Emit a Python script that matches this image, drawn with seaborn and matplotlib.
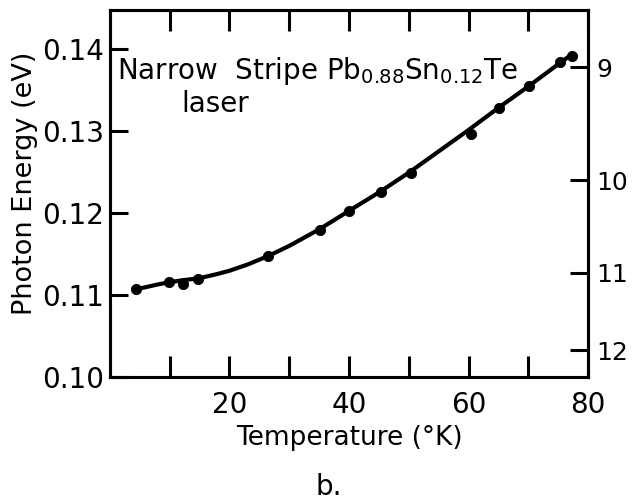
import matplotlib
matplotlib.use("Agg")
import matplotlib.pyplot as plt
import seaborn as sns
import numpy as np
import pandas as pd

# measured points
temp_K = [4.3, 9.9, 12.2, 14.7, 26.5, 35.1, 40.0, 45.3, 50.3, 60.5, 65.1, 70.05, 75.3, 77.4]
energy_eV = [0.1107, 0.11165, 0.11137, 0.1120, 0.11477, 0.11799, 0.12026, 0.12253,
             0.12492, 0.12964, 0.1328, 0.13544, 0.13833, 0.13909]

# smooth curve
curve_T = [4.3, 8, 10, 12, 15, 18, 20, 23, 26.5, 30, 35, 40, 45, 50, 55, 60, 65, 70, 75, 76.7]
curve_E = [0.1107, 0.1113, 0.11158, 0.1118, 0.11207, 0.11258, 0.11297, 0.11372, 0.11477,
           0.1160, 0.1180, 0.12026, 0.1225, 0.1249, 0.1275, 0.1301, 0.1328, 0.1354,
           0.1381, 0.1390]

x_ticks = [10, 20, 30, 40, 50, 60, 70, 80]
x_labels = ["", "20", "", "40", "", "60", "", "80"]
y_ticks = [0.10, 0.11, 0.12, 0.13, 0.14]
y_labels = ["0.10", "0.11", "0.12", "0.13", "0.14"]
wl_ticks = [9, 10, 11, 12]
wl_labels = ["9", "10", "11", "12"]

sns.set_style("ticks")
plt.rcParams['font.family'] = ['DejaVu Sans']
plt.rcParams['text.color'] = 'black'
plt.rcParams['axes.labelcolor'] = 'black'
plt.rcParams['xtick.color'] = 'black'
plt.rcParams['ytick.color'] = 'black'
plt.rcParams['axes.edgecolor'] = 'black'

fig = plt.figure(figsize=(6.35, 5.04), dpi=100)
ax = fig.add_axes([0.1732, 0.2514, 0.926 - 0.1732, 0.980 - 0.2514])

df_c = pd.DataFrame({"T": curve_T, "E": curve_E})
df_p = pd.DataFrame({"T": temp_K, "E": energy_eV})
sns.lineplot(data=df_c, x="T", y="E", ax=ax, color="black", linewidth=3, sort=True)
sns.scatterplot(data=df_p, x="T", y="E", ax=ax, color="black", s=55, edgecolor="black", zorder=5)

ax.set_xlim(0, 80)
ax.set_ylim(0.10, 0.1447)
ax.set_xticks(x_ticks)
ax.set_xticklabels(x_labels)
ax.set_yticks(y_ticks)
ax.set_yticklabels(y_labels)
ax.tick_params(axis="x", direction="in", length=15, width=2.2, top=True, labelsize=20, pad=10)
ax.tick_params(axis="y", direction="in", length=13, width=2.2, labelsize=20, pad=4)
for s in ax.spines.values():
    s.set_linewidth(2.2)
    s.set_visible(True)

ax.set_xlabel("Temperature (°K)", fontsize=19, labelpad=4)
ax.set_ylabel("")
fig.text(0.040, 0.637, "Photon Energy (eV)", fontsize=19.5, rotation=90,
         ha="center", va="center")

ax2 = ax.twinx()
ax2.set_ylim(ax.get_ylim())
ax2.set_yticks([1.2398 / w for w in wl_ticks])
ax2.set_yticklabels(wl_labels)
ax2.tick_params(axis="y", direction="in", length=13, width=2.2, labelsize=18, pad=6)
for s in ax2.spines.values():
    s.set_linewidth(2.2)

ax.text(0.014, 0.812, r"Narrow  Stripe Pb$_{0.88}$Sn$_{0.12}$Te", transform=ax.transAxes,
        fontsize=20, ha="left", va="baseline")
ax.text(0.15, 0.722, "laser", transform=ax.transAxes, fontsize=20, ha="left", va="baseline")

fig.text(0.518, 0.018, "b.", fontsize=20, ha="center", va="baseline")

fig.savefig("out.png", dpi=100)
